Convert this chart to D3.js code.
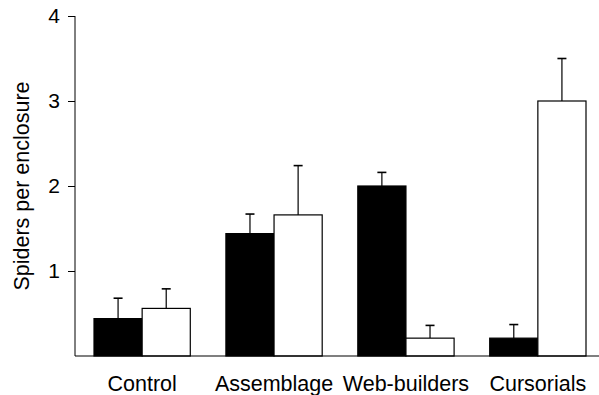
<!DOCTYPE html>
<html>
<head>
<meta charset="utf-8">
<script src="https://cdn.jsdelivr.net/npm/d3@7"></script>
<style>
  body { margin: 0; background: #fff; }
  text { font-family: "Liberation Sans", Arial, Helvetica, sans-serif; fill: #000; }
</style>
</head>
<body>
<div id="chart"></div>
<script>
// data
var categories = ["Control", "Assemblage", "Web-builders", "Cursorials"];
var seriesNames = ["black", "white"];
var blackMeans = [0.44, 1.44, 2.0, 0.21];
var blackErr = [0.68, 1.67, 2.16, 0.37];   // top of error bar
var whiteMeans = [0.56, 1.66, 0.21, 3.0];
var whiteErr = [0.79, 2.24, 0.36, 3.5];
var yTicks = [1, 2, 3, 4];

var width = 599;
var height = 395;

var svg = d3.select("#chart")
  .append("svg")
  .attr("width", width)
  .attr("height", height);

var y = d3.scaleLinear().domain([0, 4]).range([356, 16]);

var x = d3.scaleBand()
  .domain(categories)
  .range([94, 586])
  .paddingInner(0.27)
  .paddingOuter(0);

var xInner = d3.scaleBand()
  .domain(seriesNames)
  .range([0, x.bandwidth()]);

// rows for drawing
var rows = [];
categories.forEach(function (c, i) {
  rows.push({ cat: c, s: "black", v: blackMeans[i], e: blackErr[i] });
  rows.push({ cat: c, s: "white", v: whiteMeans[i], e: whiteErr[i] });
});

// error bars first so the bars sit on top
var cap = 4.5;
var errs = svg.append("g").attr("stroke", "#000").attr("stroke-width", 1.2);
rows.forEach(function (d) {
  var cx = x(d.cat) + xInner(d.s) + xInner.bandwidth() / 2;
  errs.append("line")
    .attr("x1", cx).attr("x2", cx)
    .attr("y1", y(d.v)).attr("y2", y(d.e));
  errs.append("line")
    .attr("x1", cx - cap).attr("x2", cx + cap)
    .attr("y1", y(d.e)).attr("y2", y(d.e))
    .attr("stroke-width", 1.6);
});

svg.append("g")
  .selectAll("rect")
  .data(rows)
  .enter()
  .append("rect")
  .attr("x", function (d) { return x(d.cat) + xInner(d.s); })
  .attr("y", function (d) { return y(d.v); })
  .attr("width", xInner.bandwidth())
  .attr("height", function (d) { return y(0) - y(d.v); })
  .attr("fill", function (d) { return d.s === "black" ? "#000" : "#fff"; })
  .attr("stroke", "#000")
  .attr("stroke-width", 1.2);

// y axis
var yAxis = d3.axisLeft(y).tickValues(yTicks).tickSize(7).tickPadding(8).tickFormat(d3.format("d"));
var gy = svg.append("g")
  .attr("transform", "translate(75,0)")
  .call(yAxis);
gy.select(".domain").attr("d", "M0," + y(4) + "V" + y(0));
gy.attr("font-family", null).attr("font-size", null);
gy.selectAll("text").style("font-size", "21px");

// x axis baseline
svg.append("line")
  .attr("x1", 75).attr("x2", width)
  .attr("y1", y(0)).attr("y2", y(0))
  .attr("stroke", "#000")
  .attr("stroke-width", 1.2);

// category labels
svg.append("g")
  .selectAll("text")
  .data(categories)
  .enter()
  .append("text")
  .attr("x", function (d) { return x(d) + x.bandwidth() / 2; })
  .attr("y", 391)
  .attr("text-anchor", "middle")
  .style("font-size", "21.5px")
  .text(function (d) { return d; });

// y label
svg.append("text")
  .attr("transform", "translate(29," + (y(0) + y(4)) / 2 + ") rotate(-90)")
  .attr("text-anchor", "middle")
  .style("font-size", "21.5px")
  .text("Spiders per enclosure");
</script>
</body>
</html>
